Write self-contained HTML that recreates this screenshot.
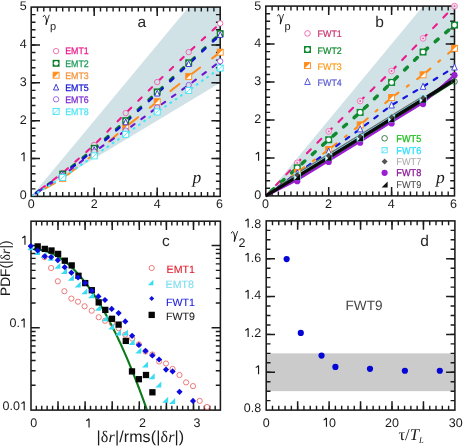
<!DOCTYPE html><html><head><meta charset="utf-8"><style>html,body{margin:0;padding:0;background:#fff}svg{display:block;will-change:transform;text-rendering:geometricPrecision}</style></head><body><svg width="463" height="447" viewBox="0 0 463 447"><rect width="463" height="447" fill="#fff"/><path d="M31.20 196.40L188.70 7.10L220.20 7.10L220.20 82.82z" fill="#d1e2e7"/><path d="M37.50 196.40v-4.3M37.50 7.10v4.3M43.80 196.40v-4.3M43.80 7.10v4.3M50.10 196.40v-4.3M50.10 7.10v4.3M56.40 196.40v-4.3M56.40 7.10v4.3M62.70 196.40v-4.3M62.70 7.10v4.3M69.00 196.40v-4.3M69.00 7.10v4.3M75.30 196.40v-4.3M75.30 7.10v4.3M81.60 196.40v-4.3M81.60 7.10v4.3M87.90 196.40v-4.3M87.90 7.10v4.3M94.20 196.40v-4.3M94.20 7.10v4.3M100.50 196.40v-4.3M100.50 7.10v4.3M106.80 196.40v-4.3M106.80 7.10v4.3M113.10 196.40v-4.3M113.10 7.10v4.3M119.40 196.40v-4.3M119.40 7.10v4.3M125.70 196.40v-4.3M125.70 7.10v4.3M132.00 196.40v-4.3M132.00 7.10v4.3M138.30 196.40v-4.3M138.30 7.10v4.3M144.60 196.40v-4.3M144.60 7.10v4.3M150.90 196.40v-4.3M150.90 7.10v4.3M157.20 196.40v-4.3M157.20 7.10v4.3M163.50 196.40v-4.3M163.50 7.10v4.3M169.80 196.40v-4.3M169.80 7.10v4.3M176.10 196.40v-4.3M176.10 7.10v4.3M182.40 196.40v-4.3M182.40 7.10v4.3M188.70 196.40v-4.3M188.70 7.10v4.3M195.00 196.40v-4.3M195.00 7.10v4.3M201.30 196.40v-4.3M201.30 7.10v4.3M207.60 196.40v-4.3M207.60 7.10v4.3M213.90 196.40v-4.3M213.90 7.10v4.3" stroke="#1a1a1a" stroke-width="1.4" fill="none"/><path d="M94.20 196.40v-8.8M94.20 7.10v8.8M157.20 196.40v-8.8M157.20 7.10v8.8" stroke="#1a1a1a" stroke-width="1.5" fill="none"/><path d="M31.20 188.83h4.3M220.20 188.83h-4.3M31.20 181.26h4.3M220.20 181.26h-4.3M31.20 173.68h4.3M220.20 173.68h-4.3M31.20 166.11h4.3M220.20 166.11h-4.3M31.20 158.54h4.3M220.20 158.54h-4.3M31.20 150.97h4.3M220.20 150.97h-4.3M31.20 143.40h4.3M220.20 143.40h-4.3M31.20 135.82h4.3M220.20 135.82h-4.3M31.20 128.25h4.3M220.20 128.25h-4.3M31.20 120.68h4.3M220.20 120.68h-4.3M31.20 113.11h4.3M220.20 113.11h-4.3M31.20 105.54h4.3M220.20 105.54h-4.3M31.20 97.96h4.3M220.20 97.96h-4.3M31.20 90.39h4.3M220.20 90.39h-4.3M31.20 82.82h4.3M220.20 82.82h-4.3M31.20 75.25h4.3M220.20 75.25h-4.3M31.20 67.68h4.3M220.20 67.68h-4.3M31.20 60.10h4.3M220.20 60.10h-4.3M31.20 52.53h4.3M220.20 52.53h-4.3M31.20 44.96h4.3M220.20 44.96h-4.3M31.20 37.39h4.3M220.20 37.39h-4.3M31.20 29.82h4.3M220.20 29.82h-4.3M31.20 22.24h4.3M220.20 22.24h-4.3M31.20 14.67h4.3M220.20 14.67h-4.3" stroke="#1a1a1a" stroke-width="1.4" fill="none"/><path d="M31.20 158.54h8.8M220.20 158.54h-8.8M31.20 120.68h8.8M220.20 120.68h-8.8M31.20 82.82h8.8M220.20 82.82h-8.8M31.20 44.96h8.8M220.20 44.96h-8.8" stroke="#1a1a1a" stroke-width="1.5" fill="none"/><rect x="31.20" y="7.10" width="189.00" height="189.30" fill="none" stroke="#1a1a1a" stroke-width="1.55"/><text x="26.70" y="199.00" font-size="12.5" text-anchor="end" fill="#1a1a1a" font-family="Liberation Sans, sans-serif" >0</text><path d="M24.06 161.28V152.53M21.25 154.53Q23.38 153.78 23.94 152.34" fill="none" stroke="#1a1a1a" stroke-width="1.15"/><text x="26.70" y="123.56" font-size="12.5" text-anchor="end" fill="#1a1a1a" font-family="Liberation Sans, sans-serif" >2</text><text x="26.70" y="85.84" font-size="12.5" text-anchor="end" fill="#1a1a1a" font-family="Liberation Sans, sans-serif" >3</text><text x="26.70" y="48.12" font-size="12.5" text-anchor="end" fill="#1a1a1a" font-family="Liberation Sans, sans-serif" >4</text><text x="26.70" y="10.40" font-size="12.5" text-anchor="end" fill="#1a1a1a" font-family="Liberation Sans, sans-serif" >5</text><text x="31.20" y="208.10" font-size="12.5" text-anchor="middle" fill="#1a1a1a" font-family="Liberation Sans, sans-serif" >0</text><text x="94.20" y="208.10" font-size="12.5" text-anchor="middle" fill="#1a1a1a" font-family="Liberation Sans, sans-serif" >2</text><text x="157.20" y="208.10" font-size="12.5" text-anchor="middle" fill="#1a1a1a" font-family="Liberation Sans, sans-serif" >4</text><text x="219.40" y="208.10" font-size="12.5" text-anchor="middle" fill="#1a1a1a" font-family="Liberation Sans, sans-serif" >6</text><path d="M220.20 23.38L188.70 52.15L157.20 82.06L125.70 113.11L94.20 144.91L62.70 172.93L33.09 194.99" fill="none" stroke="#ec1a8c" stroke-width="2.1" stroke-linecap="round" stroke-dasharray="4.70 9.90" stroke-dashoffset="-5.75"/><path d="M220.20 33.60L188.70 62.75L157.20 91.91L125.70 120.68L94.20 148.32L62.70 174.06L33.09 195.06" fill="none" stroke="#0a7a28" stroke-width="2.7" stroke-linecap="round" stroke-dasharray="4.10 10.50" stroke-dashoffset="-5.85"/><path d="M220.20 52.15L188.70 76.38L157.20 101.75L125.70 127.12L94.20 154.00L62.70 178.61L33.09 195.33" fill="none" stroke="#ff8c1a" stroke-width="2.0" stroke-linecap="round" stroke-dasharray="11.50 15.00" stroke-dashoffset="1.25"/><path d="M220.20 34.74L188.70 63.89L157.20 93.42L125.70 122.19L94.20 149.83L62.70 174.82L33.09 195.11" fill="none" stroke="#1212cc" stroke-width="2.5" stroke-linecap="round" stroke-dasharray="4.30 10.30" stroke-dashoffset="-5.55"/><path d="M220.20 61.24L188.70 85.09L157.20 107.43L125.70 130.52L94.20 151.73L62.70 175.58L33.09 195.15" fill="none" stroke="#6a14d2" stroke-width="2.1" stroke-linecap="round" stroke-dasharray="4.30 8.30" stroke-dashoffset="-5.35"/><path d="M220.20 68.05L188.70 90.39L157.20 111.97L125.70 134.31L94.20 155.89L62.70 177.47L33.09 195.26" fill="none" stroke="#3fe6f5" stroke-width="2.1" stroke-linecap="round" stroke-dasharray="0.90 5.50" stroke-dashoffset="-2.25"/><circle cx="62.70" cy="172.93" r="2.7" fill="#d1e2e7" stroke="#f0509f" stroke-width="0.8"/><circle cx="94.20" cy="144.91" r="2.7" fill="#d1e2e7" stroke="#f0509f" stroke-width="0.8"/><circle cx="125.70" cy="113.11" r="2.7" fill="#d1e2e7" stroke="#f0509f" stroke-width="0.8"/><circle cx="157.20" cy="82.06" r="2.7" fill="#d1e2e7" stroke="#f0509f" stroke-width="0.8"/><circle cx="188.70" cy="52.15" r="2.7" fill="#d1e2e7" stroke="#f0509f" stroke-width="0.8"/><circle cx="220.20" cy="23.38" r="2.7" fill="#fff" stroke="#f0509f" stroke-width="0.8"/><rect x="59.25" y="170.61" width="6.9" height="6.9" fill="#0a7a28"/><circle cx="62.70" cy="174.06" r="2.28" fill="#fff"/><rect x="90.75" y="144.87" width="6.9" height="6.9" fill="#0a7a28"/><circle cx="94.20" cy="148.32" r="2.28" fill="#fff"/><rect x="122.25" y="117.23" width="6.9" height="6.9" fill="#0a7a28"/><circle cx="125.70" cy="120.68" r="2.28" fill="#fff"/><rect x="153.75" y="88.46" width="6.9" height="6.9" fill="#0a7a28"/><circle cx="157.20" cy="91.91" r="2.28" fill="#fff"/><rect x="185.25" y="59.30" width="6.9" height="6.9" fill="#0a7a28"/><circle cx="188.70" cy="62.75" r="2.28" fill="#fff"/><rect x="216.75" y="30.15" width="6.9" height="6.9" fill="#0a7a28"/><circle cx="220.20" cy="33.60" r="2.28" fill="#fff"/><rect x="59.70" y="175.61" width="6.0" height="6.0" fill="#fff" stroke="#ff8c1a" stroke-width="0.9"/><path d="M59.70 175.61h6.0L59.70 181.61z" fill="#ff8c1a"/><rect x="91.20" y="151.00" width="6.0" height="6.0" fill="#fff" stroke="#ff8c1a" stroke-width="0.9"/><path d="M91.20 151.00h6.0L91.20 157.00z" fill="#ff8c1a"/><rect x="122.70" y="124.12" width="6.0" height="6.0" fill="#fff" stroke="#ff8c1a" stroke-width="0.9"/><path d="M122.70 124.12h6.0L122.70 130.12z" fill="#ff8c1a"/><rect x="154.20" y="98.75" width="6.0" height="6.0" fill="#fff" stroke="#ff8c1a" stroke-width="0.9"/><path d="M154.20 98.75h6.0L154.20 104.75z" fill="#ff8c1a"/><rect x="185.70" y="73.38" width="6.0" height="6.0" fill="#fff" stroke="#ff8c1a" stroke-width="0.9"/><path d="M185.70 73.38h6.0L185.70 79.38z" fill="#ff8c1a"/><rect x="217.20" y="49.15" width="6.0" height="6.0" fill="#fff" stroke="#ff8c1a" stroke-width="0.9"/><path d="M217.20 49.15h6.0L217.20 55.15z" fill="#ff8c1a"/><path d="M62.70 171.62L65.30 177.42H60.10z" fill="#fff" stroke="#2a2ad0" stroke-width="0.9"/><path d="M94.20 146.63L96.80 152.43H91.60z" fill="#fff" stroke="#2a2ad0" stroke-width="0.9"/><path d="M125.70 118.99L128.30 124.79H123.10z" fill="#fff" stroke="#2a2ad0" stroke-width="0.9"/><path d="M157.20 90.22L159.80 96.02H154.60z" fill="#fff" stroke="#2a2ad0" stroke-width="0.9"/><path d="M188.70 60.69L191.30 66.49H186.10z" fill="#fff" stroke="#2a2ad0" stroke-width="0.9"/><path d="M220.20 31.54L222.80 37.34H217.60z" fill="#fff" stroke="#2a2ad0" stroke-width="0.9"/><circle cx="62.70" cy="175.58" r="2.7" fill="#d1e2e7" stroke="#8a48dc" stroke-width="0.8"/><circle cx="94.20" cy="151.73" r="2.7" fill="#d1e2e7" stroke="#8a48dc" stroke-width="0.8"/><circle cx="125.70" cy="130.52" r="2.7" fill="#d1e2e7" stroke="#8a48dc" stroke-width="0.8"/><circle cx="157.20" cy="107.43" r="2.7" fill="#d1e2e7" stroke="#8a48dc" stroke-width="0.8"/><circle cx="188.70" cy="85.09" r="2.7" fill="#d1e2e7" stroke="#8a48dc" stroke-width="0.8"/><circle cx="220.20" cy="61.24" r="2.7" fill="#fff" stroke="#8a48dc" stroke-width="0.8"/><rect x="59.70" y="174.47" width="6.0" height="6.0" fill="#fff" stroke="#3fe6f5" stroke-width="0.9"/><path d="M59.70 180.47L65.70 174.47" stroke="#3fe6f5" stroke-width="0.8"/><rect x="91.20" y="152.89" width="6.0" height="6.0" fill="#fff" stroke="#3fe6f5" stroke-width="0.9"/><path d="M91.20 158.89L97.20 152.89" stroke="#3fe6f5" stroke-width="0.8"/><rect x="122.70" y="131.31" width="6.0" height="6.0" fill="#fff" stroke="#3fe6f5" stroke-width="0.9"/><path d="M122.70 137.31L128.70 131.31" stroke="#3fe6f5" stroke-width="0.8"/><rect x="154.20" y="108.97" width="6.0" height="6.0" fill="#fff" stroke="#3fe6f5" stroke-width="0.9"/><path d="M154.20 114.97L160.20 108.97" stroke="#3fe6f5" stroke-width="0.8"/><rect x="185.70" y="87.39" width="6.0" height="6.0" fill="#fff" stroke="#3fe6f5" stroke-width="0.9"/><path d="M185.70 93.39L191.70 87.39" stroke="#3fe6f5" stroke-width="0.8"/><rect x="217.20" y="65.05" width="6.0" height="6.0" fill="#fff" stroke="#3fe6f5" stroke-width="0.9"/><path d="M217.20 71.05L223.20 65.05" stroke="#3fe6f5" stroke-width="0.8"/><circle cx="56.10" cy="51.10" r="2.7" fill="#fff" stroke="#f0509f" stroke-width="0.8"/><text x="65.20" y="54.40" font-size="9.5" text-anchor="start" fill="#ec1a8c" font-family="Liberation Sans, sans-serif" stroke="#ec1a8c" stroke-width="0.25" textLength="23.6" lengthAdjust="spacingAndGlyphs">EMT1</text><rect x="52.65" y="59.85" width="6.9" height="6.9" fill="#0a7a28"/><circle cx="56.10" cy="63.30" r="2.28" fill="#fff"/><text x="65.20" y="66.60" font-size="9.5" text-anchor="start" fill="#1a9a58" font-family="Liberation Sans, sans-serif" stroke="#1a9a58" stroke-width="0.25" textLength="23.6" lengthAdjust="spacingAndGlyphs">EMT2</text><rect x="53.10" y="72.20" width="6.0" height="6.0" fill="#fff" stroke="#ff8c1a" stroke-width="0.9"/><path d="M53.10 72.20h6.0L53.10 78.20z" fill="#ff8c1a"/><text x="65.20" y="78.50" font-size="9.5" text-anchor="start" fill="#f5923a" font-family="Liberation Sans, sans-serif" stroke="#f5923a" stroke-width="0.25" textLength="23.6" lengthAdjust="spacingAndGlyphs">EMT3</text><path d="M56.10 84.20L58.70 90.00H53.50z" fill="#fff" stroke="#2a2ad0" stroke-width="0.9"/><text x="65.20" y="90.70" font-size="9.5" text-anchor="start" fill="#1414d2" font-family="Liberation Sans, sans-serif" stroke="#1414d2" stroke-width="0.25" textLength="23.6" lengthAdjust="spacingAndGlyphs">EMT5</text><circle cx="56.10" cy="99.30" r="2.7" fill="#fff" stroke="#8a48dc" stroke-width="0.8"/><text x="65.20" y="102.60" font-size="9.5" text-anchor="start" fill="#7a2ad2" font-family="Liberation Sans, sans-serif" stroke="#7a2ad2" stroke-width="0.25" textLength="23.6" lengthAdjust="spacingAndGlyphs">EMT6</text><rect x="53.10" y="108.50" width="6.0" height="6.0" fill="#fff" stroke="#3fe6f5" stroke-width="0.9"/><path d="M53.10 114.50L59.10 108.50" stroke="#3fe6f5" stroke-width="0.8"/><text x="65.20" y="114.80" font-size="9.5" text-anchor="start" fill="#4fe4f5" font-family="Liberation Sans, sans-serif" stroke="#4fe4f5" stroke-width="0.25" textLength="23.6" lengthAdjust="spacingAndGlyphs">EMT8</text><text x="137.50" y="27.10" font-size="15.5" text-anchor="start" fill="#2a2626" font-family="Liberation Sans, sans-serif" >a</text><g transform="translate(42.90,14.80) scale(1.0)" fill="none" stroke="#1a1a1a" stroke-linecap="round"><path d="M0.3 1.9C0.7 0.3 2.0 0.1 2.6 1.7L3.9 6.6" stroke-width="0.95"/><path d="M6.3 0.4L3.7 7.6" stroke-width="0.85"/><path d="M3.85 6.2L3.2 9.6" stroke-width="1.35"/></g><text x="50.00" y="30.30" font-size="11" text-anchor="start" fill="#1a1a1a" font-family="Liberation Sans, sans-serif" >p</text><text x="192.50" y="183.20" font-size="17.5" text-anchor="start" fill="#1a1a1a" font-family="Liberation Serif, serif" font-style="italic">p</text><path d="M265.80 195.90L423.05 6.10L454.50 6.10L454.50 80.12z" fill="#d1e2e7"/><path d="M272.09 195.90v-4.3M272.09 6.10v4.3M278.38 195.90v-4.3M278.38 6.10v4.3M284.67 195.90v-4.3M284.67 6.10v4.3M290.96 195.90v-4.3M290.96 6.10v4.3M297.25 195.90v-4.3M297.25 6.10v4.3M303.54 195.90v-4.3M303.54 6.10v4.3M309.83 195.90v-4.3M309.83 6.10v4.3M316.12 195.90v-4.3M316.12 6.10v4.3M322.41 195.90v-4.3M322.41 6.10v4.3M328.70 195.90v-4.3M328.70 6.10v4.3M334.99 195.90v-4.3M334.99 6.10v4.3M341.28 195.90v-4.3M341.28 6.10v4.3M347.57 195.90v-4.3M347.57 6.10v4.3M353.86 195.90v-4.3M353.86 6.10v4.3M360.15 195.90v-4.3M360.15 6.10v4.3M366.44 195.90v-4.3M366.44 6.10v4.3M372.73 195.90v-4.3M372.73 6.10v4.3M379.02 195.90v-4.3M379.02 6.10v4.3M385.31 195.90v-4.3M385.31 6.10v4.3M391.60 195.90v-4.3M391.60 6.10v4.3M397.89 195.90v-4.3M397.89 6.10v4.3M404.18 195.90v-4.3M404.18 6.10v4.3M410.47 195.90v-4.3M410.47 6.10v4.3M416.76 195.90v-4.3M416.76 6.10v4.3M423.05 195.90v-4.3M423.05 6.10v4.3M429.34 195.90v-4.3M429.34 6.10v4.3M435.63 195.90v-4.3M435.63 6.10v4.3M441.92 195.90v-4.3M441.92 6.10v4.3M448.21 195.90v-4.3M448.21 6.10v4.3" stroke="#1a1a1a" stroke-width="1.4" fill="none"/><path d="M328.70 195.90v-8.8M328.70 6.10v8.8M391.60 195.90v-8.8M391.60 6.10v8.8" stroke="#1a1a1a" stroke-width="1.5" fill="none"/><path d="M265.80 188.31h4.3M454.50 188.31h-4.3M265.80 180.72h4.3M454.50 180.72h-4.3M265.80 173.12h4.3M454.50 173.12h-4.3M265.80 165.53h4.3M454.50 165.53h-4.3M265.80 157.94h4.3M454.50 157.94h-4.3M265.80 150.35h4.3M454.50 150.35h-4.3M265.80 142.76h4.3M454.50 142.76h-4.3M265.80 135.16h4.3M454.50 135.16h-4.3M265.80 127.57h4.3M454.50 127.57h-4.3M265.80 119.98h4.3M454.50 119.98h-4.3M265.80 112.39h4.3M454.50 112.39h-4.3M265.80 104.80h4.3M454.50 104.80h-4.3M265.80 97.20h4.3M454.50 97.20h-4.3M265.80 89.61h4.3M454.50 89.61h-4.3M265.80 82.02h4.3M454.50 82.02h-4.3M265.80 74.43h4.3M454.50 74.43h-4.3M265.80 66.84h4.3M454.50 66.84h-4.3M265.80 59.24h4.3M454.50 59.24h-4.3M265.80 51.65h4.3M454.50 51.65h-4.3M265.80 44.06h4.3M454.50 44.06h-4.3M265.80 36.47h4.3M454.50 36.47h-4.3M265.80 28.88h4.3M454.50 28.88h-4.3M265.80 21.28h4.3M454.50 21.28h-4.3M265.80 13.69h4.3M454.50 13.69h-4.3" stroke="#1a1a1a" stroke-width="1.4" fill="none"/><path d="M265.80 157.94h8.8M454.50 157.94h-8.8M265.80 119.98h8.8M454.50 119.98h-8.8M265.80 82.02h8.8M454.50 82.02h-8.8M265.80 44.06h8.8M454.50 44.06h-8.8" stroke="#1a1a1a" stroke-width="1.5" fill="none"/><rect x="265.80" y="6.10" width="188.70" height="189.80" fill="none" stroke="#1a1a1a" stroke-width="1.55"/><text x="261.20" y="198.70" font-size="12.5" text-anchor="end" fill="#1a1a1a" font-family="Liberation Sans, sans-serif" >0</text><path d="M258.56 160.84V152.09M255.75 154.09Q257.88 153.34 258.44 151.90" fill="none" stroke="#1a1a1a" stroke-width="1.15"/><text x="261.20" y="122.98" font-size="12.5" text-anchor="end" fill="#1a1a1a" font-family="Liberation Sans, sans-serif" >2</text><text x="261.20" y="85.12" font-size="12.5" text-anchor="end" fill="#1a1a1a" font-family="Liberation Sans, sans-serif" >3</text><text x="261.20" y="47.26" font-size="12.5" text-anchor="end" fill="#1a1a1a" font-family="Liberation Sans, sans-serif" >4</text><text x="261.20" y="10.00" font-size="12.5" text-anchor="end" fill="#1a1a1a" font-family="Liberation Sans, sans-serif" >5</text><text x="265.50" y="207.60" font-size="12.5" text-anchor="middle" fill="#1a1a1a" font-family="Liberation Sans, sans-serif" >0</text><text x="328.40" y="207.60" font-size="12.5" text-anchor="middle" fill="#1a1a1a" font-family="Liberation Sans, sans-serif" >2</text><text x="391.30" y="207.60" font-size="12.5" text-anchor="middle" fill="#1a1a1a" font-family="Liberation Sans, sans-serif" >4</text><text x="453.50" y="207.60" font-size="12.5" text-anchor="middle" fill="#1a1a1a" font-family="Liberation Sans, sans-serif" >6</text><path d="M454.50 6.10L423.05 38.37L391.60 71.01L360.15 101.00L328.70 131.37L297.25 162.87L267.37 194.25" fill="none" stroke="#ec1a8c" stroke-width="2.1" stroke-linecap="round" stroke-dasharray="5.50 9.30" stroke-dashoffset="-10.45"/><path d="M454.50 25.08L423.05 52.03L391.60 82.40L360.15 112.39L328.70 139.72L297.25 167.81L267.37 194.50" fill="none" stroke="#0f8a2f" stroke-width="3.5" stroke-linecap="round" stroke-dasharray="3.90 10.00" stroke-dashoffset="-7.65"/><path d="M454.50 48.24L423.05 74.81L391.60 97.58L360.15 124.91L328.70 149.59L297.25 172.36L267.37 194.72" fill="none" stroke="#ff8c1a" stroke-width="2.1" stroke-linecap="round" stroke-dasharray="16.9 10.35 2.4 10.35" stroke-dashoffset="8.45"/><path d="M454.50 67.22L423.05 86.58L391.60 105.18L360.15 129.09L328.70 151.49L297.25 173.12L267.37 194.76" fill="none" stroke="#1414dd" stroke-width="2.2" stroke-linecap="round" stroke-dasharray="4.20 7.60" stroke-dashoffset="-8.40"/><path d="M265.80 195.90L297.25 178.92L328.70 159.63L360.15 140.35L391.60 121.07L423.05 101.78L454.50 81.64" fill="none" stroke="#0a6a1a" stroke-width="1.2" stroke-linejoin="round"/><path d="M265.80 195.90L297.25 180.02L328.70 160.73L360.15 141.45L391.60 122.17L423.05 102.88L454.50 75.19" fill="none" stroke="#9a1fd0" stroke-width="2.2" stroke-linejoin="round"/><path d="M265.80 195.90L297.25 173.52L328.70 154.23L360.15 134.95L391.60 115.67L423.05 96.38" fill="none" stroke="#6e7274" stroke-width="1.6" stroke-linejoin="round"/><path d="M265.80 195.90L297.25 174.52L328.70 155.23L360.15 135.95L391.60 116.67L423.05 97.38" fill="none" stroke="#7fe8f2" stroke-width="1.0" stroke-linejoin="round"/><path d="M265.80 195.90L297.25 176.62L328.70 157.33L360.15 138.05L391.60 118.77L423.05 99.48L454.50 79.74" fill="none" stroke="#0a0a0a" stroke-width="3.3" stroke-linejoin="round"/><circle cx="297.25" cy="162.87" r="2.9" fill="#e9dfea" stroke="#f26ab4" stroke-width="0.8"/><circle cx="297.25" cy="162.87" r="0.9" fill="#f050a8"/><circle cx="328.70" cy="131.37" r="2.9" fill="#e9dfea" stroke="#f26ab4" stroke-width="0.8"/><circle cx="328.70" cy="131.37" r="0.9" fill="#f050a8"/><circle cx="360.15" cy="101.00" r="2.9" fill="#e9dfea" stroke="#f26ab4" stroke-width="0.8"/><circle cx="360.15" cy="101.00" r="0.9" fill="#f050a8"/><circle cx="391.60" cy="71.01" r="2.9" fill="#e9dfea" stroke="#f26ab4" stroke-width="0.8"/><circle cx="391.60" cy="71.01" r="0.9" fill="#f050a8"/><circle cx="423.05" cy="38.37" r="2.9" fill="#e9dfea" stroke="#f26ab4" stroke-width="0.8"/><circle cx="423.05" cy="38.37" r="0.9" fill="#f050a8"/><circle cx="454.50" cy="6.10" r="2.9" fill="#e9dfea" stroke="#f26ab4" stroke-width="0.8"/><circle cx="454.50" cy="6.10" r="0.9" fill="#f050a8"/><rect x="293.75" y="164.31" width="7.0" height="7.0" fill="#0f8a2f"/><circle cx="297.25" cy="167.81" r="2.31" fill="#fff"/><rect x="325.20" y="136.22" width="7.0" height="7.0" fill="#0f8a2f"/><circle cx="328.70" cy="139.72" r="2.31" fill="#fff"/><rect x="356.65" y="108.89" width="7.0" height="7.0" fill="#0f8a2f"/><circle cx="360.15" cy="112.39" r="2.31" fill="#fff"/><rect x="388.10" y="78.90" width="7.0" height="7.0" fill="#0f8a2f"/><circle cx="391.60" cy="82.40" r="2.31" fill="#fff"/><rect x="419.55" y="48.53" width="7.0" height="7.0" fill="#0f8a2f"/><circle cx="423.05" cy="52.03" r="2.31" fill="#fff"/><rect x="451.00" y="21.58" width="7.0" height="7.0" fill="#0f8a2f"/><circle cx="454.50" cy="25.08" r="2.31" fill="#fff"/><rect x="294.25" y="169.36" width="6.0" height="6.0" fill="#fff" stroke="#ff8c1a" stroke-width="0.9"/><path d="M294.25 169.36h6.0L294.25 175.36z" fill="#ff8c1a"/><rect x="325.70" y="146.59" width="6.0" height="6.0" fill="#fff" stroke="#ff8c1a" stroke-width="0.9"/><path d="M325.70 146.59h6.0L325.70 152.59z" fill="#ff8c1a"/><rect x="357.15" y="121.91" width="6.0" height="6.0" fill="#fff" stroke="#ff8c1a" stroke-width="0.9"/><path d="M357.15 121.91h6.0L357.15 127.91z" fill="#ff8c1a"/><rect x="388.60" y="94.58" width="6.0" height="6.0" fill="#fff" stroke="#ff8c1a" stroke-width="0.9"/><path d="M388.60 94.58h6.0L388.60 100.58z" fill="#ff8c1a"/><rect x="420.05" y="71.81" width="6.0" height="6.0" fill="#fff" stroke="#ff8c1a" stroke-width="0.9"/><path d="M420.05 71.81h6.0L420.05 77.81z" fill="#ff8c1a"/><rect x="451.50" y="45.24" width="6.0" height="6.0" fill="#fff" stroke="#ff8c1a" stroke-width="0.9"/><path d="M451.50 45.24h6.0L451.50 51.24z" fill="#ff8c1a"/><path d="M297.25 169.72L300.05 175.92H294.45z" fill="#fff" stroke="#3a3ad8" stroke-width="0.9"/><path d="M328.70 148.09L331.50 154.29H325.90z" fill="#fff" stroke="#3a3ad8" stroke-width="0.9"/><path d="M360.15 125.69L362.95 131.89H357.35z" fill="#fff" stroke="#3a3ad8" stroke-width="0.9"/><path d="M391.60 101.78L394.40 107.98H388.80z" fill="#fff" stroke="#3a3ad8" stroke-width="0.9"/><path d="M423.05 83.18L425.85 89.38H420.25z" fill="#fff" stroke="#3a3ad8" stroke-width="0.9"/><path d="M454.50 63.82L457.30 70.02H451.70z" fill="#fff" stroke="#3a3ad8" stroke-width="0.9"/><circle cx="297.25" cy="181.23" r="3.1" fill="#9a1fd0"/><circle cx="328.70" cy="161.95" r="3.1" fill="#9a1fd0"/><circle cx="360.15" cy="142.66" r="3.1" fill="#9a1fd0"/><circle cx="391.60" cy="123.38" r="3.1" fill="#9a1fd0"/><circle cx="423.05" cy="104.10" r="3.1" fill="#9a1fd0"/><circle cx="454.50" cy="75.19" r="3.1" fill="#9a1fd0"/><rect x="294.15" y="173.02" width="6.2" height="6.6" fill="#eafcff" stroke="#7fe8f2" stroke-width="0.9"/><rect x="325.60" y="153.73" width="6.2" height="6.6" fill="#eafcff" stroke="#7fe8f2" stroke-width="0.9"/><rect x="357.05" y="134.45" width="6.2" height="6.6" fill="#eafcff" stroke="#7fe8f2" stroke-width="0.9"/><rect x="388.50" y="115.17" width="6.2" height="6.6" fill="#eafcff" stroke="#7fe8f2" stroke-width="0.9"/><rect x="419.95" y="95.88" width="6.2" height="6.6" fill="#eafcff" stroke="#7fe8f2" stroke-width="0.9"/><path d="M297.25 172.01L300.25 175.01L297.25 178.01L294.25 175.01z" fill="#4a4a4a"/><path d="M328.70 152.73L331.70 155.73L328.70 158.73L325.70 155.73z" fill="#4a4a4a"/><path d="M360.15 133.44L363.15 136.44L360.15 139.44L357.15 136.44z" fill="#4a4a4a"/><path d="M391.60 114.16L394.60 117.16L391.60 120.16L388.60 117.16z" fill="#4a4a4a"/><path d="M423.05 94.88L426.05 97.88L423.05 100.88L420.05 97.88z" fill="#4a4a4a"/><path d="M300.15 174.12V179.92H294.35z" fill="#0a0a0a"/><path d="M331.60 154.83V160.63H325.80z" fill="#0a0a0a"/><path d="M363.05 135.55V141.35H357.25z" fill="#0a0a0a"/><path d="M394.50 116.27V122.07H388.70z" fill="#0a0a0a"/><path d="M425.95 96.98V102.78H420.15z" fill="#0a0a0a"/><circle cx="454.50" cy="81.64" r="2.8" fill="none" stroke="#2a6a3a" stroke-width="0.9"/><circle cx="307.50" cy="33.40" r="2.8" fill="#fff" stroke="#f060b0" stroke-width="0.9"/><text x="317.60" y="37.40" font-size="9.5" text-anchor="start" fill="#c8326e" font-family="Liberation Sans, sans-serif" stroke="#c8326e" stroke-width="0.2" textLength="24.2" lengthAdjust="spacingAndGlyphs">FWT1</text><rect x="304.00" y="46.00" width="7.0" height="7.0" fill="#0f8a2f"/><circle cx="307.50" cy="49.50" r="2.31" fill="#fff"/><text x="317.60" y="53.50" font-size="9.5" text-anchor="start" fill="#0f8a2f" font-family="Liberation Sans, sans-serif" stroke="#0f8a2f" stroke-width="0.2" textLength="24.2" lengthAdjust="spacingAndGlyphs">FWT2</text><rect x="304.50" y="62.60" width="6.0" height="6.0" fill="#fff" stroke="#ff8c1a" stroke-width="0.9"/><path d="M304.50 62.60h6.0L304.50 68.60z" fill="#ff8c1a"/><text x="317.60" y="69.60" font-size="9.5" text-anchor="start" fill="#ff9a1a" font-family="Liberation Sans, sans-serif" stroke="#ff9a1a" stroke-width="0.2" textLength="24.2" lengthAdjust="spacingAndGlyphs">FWT3</text><path d="M307.50 78.30L310.30 84.50H304.70z" fill="#fff" stroke="#4a4ad8" stroke-width="0.9"/><text x="317.60" y="85.70" font-size="9.5" text-anchor="start" fill="#5a5ad2" font-family="Liberation Sans, sans-serif" stroke="#5a5ad2" stroke-width="0.2" textLength="24.2" lengthAdjust="spacingAndGlyphs">FWT4</text><circle cx="384.60" cy="138.30" r="2.8" fill="#fff" stroke="#2a6a3a" stroke-width="0.9"/><rect x="382.00" y="147.60" width="5.2" height="5.2" fill="#fff" stroke="#4fe4f5" stroke-width="0.9"/><path d="M382.00 152.80L387.20 147.60" stroke="#4fe4f5" stroke-width="0.8"/><path d="M384.60 158.40L387.60 161.40L384.60 164.40L381.60 161.40z" fill="#555"/><circle cx="384.6" cy="172.8" r="3.1" fill="#9a1fd0"/><path d="M387.60 181.60V187.60H381.60z" fill="#111"/><text x="396.30" y="141.80" font-size="9.9" text-anchor="start" fill="#22c022" font-family="Liberation Sans, sans-serif" stroke="#22c022" stroke-width="0.3" textLength="25.0" lengthAdjust="spacingAndGlyphs">FWT5</text><text x="396.30" y="153.50" font-size="9.9" text-anchor="start" fill="#30e0ff" font-family="Liberation Sans, sans-serif" stroke="#30e0ff" stroke-width="0.3" textLength="25.0" lengthAdjust="spacingAndGlyphs">FWT6</text><text x="396.30" y="164.90" font-size="9.9" text-anchor="start" fill="#a8a8a8" font-family="Liberation Sans, sans-serif" stroke="#a8a8a8" stroke-width="0.05" textLength="25.0" lengthAdjust="spacingAndGlyphs">FWT7</text><text x="396.30" y="176.30" font-size="9.9" text-anchor="start" fill="#8a1a9a" font-family="Liberation Sans, sans-serif" stroke="#8a1a9a" stroke-width="0.3" textLength="25.0" lengthAdjust="spacingAndGlyphs">FWT8</text><text x="396.30" y="188.10" font-size="9.9" text-anchor="start" fill="#444" font-family="Liberation Sans, sans-serif" stroke="#444" stroke-width="0.05" textLength="25.0" lengthAdjust="spacingAndGlyphs">FWT9</text><text x="375.20" y="26.80" font-size="15.5" text-anchor="start" fill="#2a2626" font-family="Liberation Sans, sans-serif" >b</text><g transform="translate(277.20,14.00) scale(1.0)" fill="none" stroke="#1a1a1a" stroke-linecap="round"><path d="M0.3 1.9C0.7 0.3 2.0 0.1 2.6 1.7L3.9 6.6" stroke-width="0.95"/><path d="M6.3 0.4L3.7 7.6" stroke-width="0.85"/><path d="M3.85 6.2L3.2 9.6" stroke-width="1.35"/></g><text x="284.60" y="29.60" font-size="11" text-anchor="start" fill="#1a1a1a" font-family="Liberation Sans, sans-serif" >p</text><text x="436.00" y="182.50" font-size="17.5" text-anchor="start" fill="#1a1a1a" font-family="Liberation Serif, serif" font-style="italic">p</text><path d="M33.80 249.36L34.89 249.38L35.98 249.42L37.06 249.49L38.15 249.60L39.24 249.73L40.33 249.90L41.42 250.09L42.50 250.31L43.59 250.56L44.68 250.85L45.77 251.16L46.86 251.50L47.94 251.87L49.03 252.27L50.12 252.70L51.21 253.16L52.30 253.65L53.38 254.17L54.47 254.72L55.56 255.30L56.65 255.91L57.74 256.55L58.82 257.22L59.91 257.92L61.00 258.64L62.09 259.40L63.18 260.19L64.26 261.01L65.35 261.85L66.44 262.73L67.53 263.63L68.62 264.57L69.70 265.54L70.79 266.53L71.88 267.56L72.97 268.61L74.06 269.69L75.14 270.81L76.23 271.95L77.32 273.13L78.41 274.33L79.50 275.56L80.58 276.82L81.67 278.12L82.76 279.44L83.85 280.79L84.94 282.17L86.02 283.58L87.11 285.02L88.20 286.49L89.29 287.99L90.38 289.52L91.46 291.08L92.55 292.67L93.64 294.29L94.73 295.94L95.82 297.62L96.90 299.33L97.99 301.06L99.08 302.83L100.17 304.63L101.26 306.46L102.34 308.31L103.43 310.20L104.52 312.11L105.61 314.06L106.70 316.04L107.78 318.04L108.87 320.08L109.96 322.14L111.05 324.23L112.14 326.36L113.22 328.51L114.31 330.70L115.40 332.91L116.49 335.15L117.58 337.42L118.66 339.73L119.75 342.06L120.84 344.42L121.93 346.81L123.02 349.23L124.10 351.68L125.19 354.16L126.28 356.67L127.37 359.21L128.46 361.78L129.54 364.38L130.63 367.01L131.72 369.67L132.81 372.36L133.90 375.08L134.98 377.82L136.07 380.60L137.16 383.41L138.25 386.25L139.34 389.11L140.42 392.01L141.51 394.93L142.60 397.89L143.69 400.88L144.78 403.89L145.86 406.94L146.95 410.01" fill="none" stroke="#0a7a1a" stroke-width="2.1"/><path d="M36.32 410.10v-4.3M36.32 221.20v4.3M41.74 410.10v-4.3M41.74 221.20v4.3M47.16 410.10v-4.3M47.16 221.20v4.3M52.58 410.10v-4.3M52.58 221.20v4.3M58.00 410.10v-4.3M58.00 221.20v4.3M63.42 410.10v-4.3M63.42 221.20v4.3M68.84 410.10v-4.3M68.84 221.20v4.3M74.26 410.10v-4.3M74.26 221.20v4.3M79.68 410.10v-4.3M79.68 221.20v4.3M85.10 410.10v-4.3M85.10 221.20v4.3M90.52 410.10v-4.3M90.52 221.20v4.3M95.94 410.10v-4.3M95.94 221.20v4.3M101.36 410.10v-4.3M101.36 221.20v4.3M106.78 410.10v-4.3M106.78 221.20v4.3M112.20 410.10v-4.3M112.20 221.20v4.3M117.62 410.10v-4.3M117.62 221.20v4.3M123.04 410.10v-4.3M123.04 221.20v4.3M128.46 410.10v-4.3M128.46 221.20v4.3M133.88 410.10v-4.3M133.88 221.20v4.3M139.30 410.10v-4.3M139.30 221.20v4.3M144.72 410.10v-4.3M144.72 221.20v4.3M150.14 410.10v-4.3M150.14 221.20v4.3M155.56 410.10v-4.3M155.56 221.20v4.3M160.98 410.10v-4.3M160.98 221.20v4.3M166.40 410.10v-4.3M166.40 221.20v4.3M171.82 410.10v-4.3M171.82 221.20v4.3M177.24 410.10v-4.3M177.24 221.20v4.3M182.66 410.10v-4.3M182.66 221.20v4.3M188.08 410.10v-4.3M188.08 221.20v4.3M193.50 410.10v-4.3M193.50 221.20v4.3M198.92 410.10v-4.3M198.92 221.20v4.3M204.34 410.10v-4.3M204.34 221.20v4.3M209.76 410.10v-4.3M209.76 221.20v4.3M215.18 410.10v-4.3M215.18 221.20v4.3" stroke="#1a1a1a" stroke-width="1.4" fill="none"/><path d="M58.00 410.10v-8.8M58.00 221.20v8.8M85.10 410.10v-8.8M85.10 221.20v8.8M112.20 410.10v-8.8M112.20 221.20v8.8M139.30 410.10v-8.8M139.30 221.20v8.8M166.40 410.10v-8.8M166.40 221.20v8.8M193.50 410.10v-8.8M193.50 221.20v8.8" stroke="#1a1a1a" stroke-width="1.5" fill="none"/><path d="M31.00 303.06h4.6M220.40 303.06h-4.6M31.00 288.58h4.6M220.40 288.58h-4.6M31.00 278.31h4.6M220.40 278.31h-4.6M31.00 270.34h4.6M220.40 270.34h-4.6M31.00 263.84h4.6M220.40 263.84h-4.6M31.00 258.33h4.6M220.40 258.33h-4.6M31.00 253.57h4.6M220.40 253.57h-4.6M31.00 249.36h4.6M220.40 249.36h-4.6M31.00 385.26h4.6M220.40 385.26h-4.6M31.00 370.78h4.6M220.40 370.78h-4.6M31.00 360.51h4.6M220.40 360.51h-4.6M31.00 352.54h4.6M220.40 352.54h-4.6M31.00 346.04h4.6M220.40 346.04h-4.6M31.00 340.53h4.6M220.40 340.53h-4.6M31.00 335.77h4.6M220.40 335.77h-4.6M31.00 331.56h4.6M220.40 331.56h-4.6" stroke="#1a1a1a" stroke-width="1.4" fill="none"/><path d="M31.00 245.60h8.8M220.40 245.60h-8.8M31.00 327.80h8.8M220.40 327.80h-8.8" stroke="#1a1a1a" stroke-width="1.5" fill="none"/><rect x="31.00" y="221.20" width="189.40" height="188.90" fill="none" stroke="#1a1a1a" stroke-width="1.55"/><path d="M24.96 244.70V235.95M22.15 237.95Q24.27 237.20 24.84 235.76" fill="none" stroke="#1a1a1a" stroke-width="1.15"/><text x="9.42" y="327.40" font-size="12.5" fill="#1a1a1a" font-family="Liberation Sans, sans-serif">0</text><text x="16.38" y="327.40" font-size="12.5" fill="#1a1a1a" font-family="Liberation Sans, sans-serif">.</text><path d="M24.16 327.40V318.65M21.35 320.65Q23.48 319.90 24.04 318.46" fill="none" stroke="#1a1a1a" stroke-width="1.15"/><text x="2.47" y="410.30" font-size="12.5" fill="#1a1a1a" font-family="Liberation Sans, sans-serif">0</text><text x="9.42" y="410.30" font-size="12.5" fill="#1a1a1a" font-family="Liberation Sans, sans-serif">.</text><text x="12.90" y="410.30" font-size="12.5" fill="#1a1a1a" font-family="Liberation Sans, sans-serif">0</text><path d="M24.16 410.30V401.55M21.35 403.55Q23.48 402.80 24.04 401.36" fill="none" stroke="#1a1a1a" stroke-width="1.15"/><text x="33.80" y="427.40" font-size="12.5" text-anchor="middle" fill="#1a1a1a" font-family="Liberation Sans, sans-serif" >0</text><path d="M89.04 427.40V418.65M86.22 420.65Q88.35 419.90 88.91 418.46" fill="none" stroke="#1a1a1a" stroke-width="1.15"/><text x="142.60" y="427.40" font-size="12.5" text-anchor="middle" fill="#1a1a1a" font-family="Liberation Sans, sans-serif" >2</text><text x="197.00" y="427.40" font-size="12.5" text-anchor="middle" fill="#1a1a1a" font-family="Liberation Sans, sans-serif" >3</text><clipPath id="cc"><rect x="28.00" y="221.20" width="195.40" height="191.90"/></clipPath><g clip-path="url(#cc)"><circle cx="44.50" cy="257.10" r="2.6" fill="none" stroke="#e85a5a" stroke-width="0.8"/><circle cx="51.10" cy="268.00" r="2.6" fill="none" stroke="#e85a5a" stroke-width="0.8"/><circle cx="57.80" cy="281.30" r="2.6" fill="none" stroke="#e85a5a" stroke-width="0.8"/><circle cx="64.40" cy="291.20" r="2.6" fill="none" stroke="#e85a5a" stroke-width="0.8"/><circle cx="71.40" cy="298.60" r="2.6" fill="none" stroke="#e85a5a" stroke-width="0.8"/><circle cx="78.00" cy="301.70" r="2.6" fill="none" stroke="#e85a5a" stroke-width="0.8"/><circle cx="84.60" cy="306.30" r="2.6" fill="none" stroke="#e85a5a" stroke-width="0.8"/><circle cx="91.70" cy="310.70" r="2.6" fill="none" stroke="#e85a5a" stroke-width="0.8"/><circle cx="98.70" cy="317.20" r="2.6" fill="none" stroke="#e85a5a" stroke-width="0.8"/><circle cx="105.00" cy="320.80" r="2.6" fill="none" stroke="#e85a5a" stroke-width="0.8"/><circle cx="112.00" cy="323.50" r="2.6" fill="none" stroke="#e85a5a" stroke-width="0.8"/><circle cx="118.60" cy="328.20" r="2.6" fill="none" stroke="#e85a5a" stroke-width="0.8"/><circle cx="125.30" cy="334.60" r="2.6" fill="none" stroke="#e85a5a" stroke-width="0.8"/><circle cx="132.10" cy="338.60" r="2.6" fill="none" stroke="#e85a5a" stroke-width="0.8"/><circle cx="138.90" cy="344.30" r="2.6" fill="none" stroke="#e85a5a" stroke-width="0.8"/><circle cx="145.50" cy="351.50" r="2.6" fill="none" stroke="#e85a5a" stroke-width="0.8"/><circle cx="152.40" cy="354.50" r="2.6" fill="none" stroke="#e85a5a" stroke-width="0.8"/><circle cx="159.10" cy="361.50" r="2.6" fill="none" stroke="#e85a5a" stroke-width="0.8"/><circle cx="166.00" cy="363.50" r="2.6" fill="none" stroke="#e85a5a" stroke-width="0.8"/><circle cx="172.60" cy="368.90" r="2.6" fill="none" stroke="#e85a5a" stroke-width="0.8"/><circle cx="179.50" cy="375.00" r="2.6" fill="none" stroke="#e85a5a" stroke-width="0.8"/><circle cx="186.10" cy="382.40" r="2.6" fill="none" stroke="#e85a5a" stroke-width="0.8"/><circle cx="193.00" cy="386.10" r="2.6" fill="none" stroke="#e85a5a" stroke-width="0.8"/><circle cx="199.70" cy="400.90" r="2.6" fill="none" stroke="#e85a5a" stroke-width="0.8"/><circle cx="207.00" cy="407.00" r="2.6" fill="none" stroke="#e85a5a" stroke-width="0.8"/><path d="M33.00 244.20V250.20H27.00z" fill="#3adcf2"/><path d="M40.00 249.00V255.00H34.00z" fill="#3adcf2"/><path d="M46.60 252.00V258.00H40.60z" fill="#3adcf2"/><path d="M53.30 254.80V260.80H47.30z" fill="#3adcf2"/><path d="M60.30 262.70V268.70H54.30z" fill="#3adcf2"/><path d="M67.00 268.10V274.10H61.00z" fill="#3adcf2"/><path d="M73.90 274.70V280.70H67.90z" fill="#3adcf2"/><path d="M80.70 281.50V287.50H74.70z" fill="#3adcf2"/><path d="M87.30 288.20V294.20H81.30z" fill="#3adcf2"/><path d="M94.00 292.20V298.20H88.00z" fill="#3adcf2"/><path d="M100.90 304.80V310.80H94.90z" fill="#3adcf2"/><path d="M107.70 315.30V321.30H101.70z" fill="#3adcf2"/><path d="M114.20 323.60V329.60H108.20z" fill="#3adcf2"/><path d="M121.00 329.40V335.40H115.00z" fill="#3adcf2"/><path d="M128.00 329.40V335.40H122.00z" fill="#3adcf2"/><path d="M134.60 339.00V345.00H128.60z" fill="#3adcf2"/><path d="M141.30 347.60V353.60H135.30z" fill="#3adcf2"/><path d="M148.00 361.50V367.50H142.00z" fill="#3adcf2"/><path d="M154.70 373.30V379.30H148.70z" fill="#3adcf2"/><path d="M161.30 381.40V387.40H155.30z" fill="#3adcf2"/><path d="M168.20 396.70V402.70H162.20z" fill="#3adcf2"/><path d="M175.10 397.90V403.90H169.10z" fill="#3adcf2"/><rect x="34.55" y="243.25" width="6.3" height="6.3" fill="#050505"/><rect x="41.65" y="245.75" width="6.3" height="6.3" fill="#050505"/><rect x="48.35" y="247.35" width="6.3" height="6.3" fill="#050505"/><rect x="54.95" y="250.75" width="6.3" height="6.3" fill="#050505"/><rect x="61.65" y="257.55" width="6.3" height="6.3" fill="#050505"/><rect x="68.55" y="262.25" width="6.3" height="6.3" fill="#050505"/><rect x="75.35" y="272.65" width="6.3" height="6.3" fill="#050505"/><rect x="82.05" y="279.95" width="6.3" height="6.3" fill="#050505"/><rect x="88.65" y="287.05" width="6.3" height="6.3" fill="#050505"/><rect x="95.55" y="299.25" width="6.3" height="6.3" fill="#050505"/><rect x="102.15" y="306.75" width="6.3" height="6.3" fill="#050505"/><rect x="108.85" y="315.65" width="6.3" height="6.3" fill="#050505"/><rect x="115.45" y="321.45" width="6.3" height="6.3" fill="#050505"/><rect x="122.65" y="337.75" width="6.3" height="6.3" fill="#050505"/><rect x="128.85" y="368.25" width="6.3" height="6.3" fill="#050505"/><rect x="135.75" y="376.05" width="6.3" height="6.3" fill="#050505"/><rect x="142.85" y="371.85" width="6.3" height="6.3" fill="#050505"/><rect x="149.25" y="389.15" width="6.3" height="6.3" fill="#050505"/><path d="M30.70 243.00L33.80 246.10L30.70 249.20L27.60 246.10z" fill="#0c0ce0"/><path d="M37.70 247.40L40.80 250.50L37.70 253.60L34.60 250.50z" fill="#0c0ce0"/><path d="M44.80 253.20L47.90 256.30L44.80 259.40L41.70 256.30z" fill="#0c0ce0"/><path d="M51.10 254.00L54.20 257.10L51.10 260.20L48.00 257.10z" fill="#0c0ce0"/><path d="M57.80 257.10L60.90 260.20L57.80 263.30L54.70 260.20z" fill="#0c0ce0"/><path d="M64.70 264.10L67.80 267.20L64.70 270.30L61.60 267.20z" fill="#0c0ce0"/><path d="M71.40 269.60L74.50 272.70L71.40 275.80L68.30 272.70z" fill="#0c0ce0"/><path d="M78.10 274.30L81.20 277.40L78.10 280.50L75.00 277.40z" fill="#0c0ce0"/><path d="M85.20 279.80L88.30 282.90L85.20 286.00L82.10 282.90z" fill="#0c0ce0"/><path d="M91.80 287.60L94.90 290.70L91.80 293.80L88.70 290.70z" fill="#0c0ce0"/><path d="M98.40 293.30L101.50 296.40L98.40 299.50L95.30 296.40z" fill="#0c0ce0"/><path d="M105.00 296.90L108.10 300.00L105.00 303.10L101.90 300.00z" fill="#0c0ce0"/><path d="M111.70 305.80L114.80 308.90L111.70 312.00L108.60 308.90z" fill="#0c0ce0"/><path d="M118.60 310.00L121.70 313.10L118.60 316.20L115.50 313.10z" fill="#0c0ce0"/><path d="M125.30 318.30L128.40 321.40L125.30 324.50L122.20 321.40z" fill="#0c0ce0"/><path d="M132.10 332.70L135.20 335.80L132.10 338.90L129.00 335.80z" fill="#0c0ce0"/><path d="M138.90 341.90L142.00 345.00L138.90 348.10L135.80 345.00z" fill="#0c0ce0"/><path d="M145.50 347.80L148.60 350.90L145.50 354.00L142.40 350.90z" fill="#0c0ce0"/><path d="M152.40 352.30L155.50 355.40L152.40 358.50L149.30 355.40z" fill="#0c0ce0"/><path d="M159.10 356.40L162.20 359.50L159.10 362.60L156.00 359.50z" fill="#0c0ce0"/><path d="M166.00 366.50L169.10 369.60L166.00 372.70L162.90 369.60z" fill="#0c0ce0"/><path d="M172.60 368.30L175.70 371.40L172.60 374.50L169.50 371.40z" fill="#0c0ce0"/><path d="M179.50 388.70L182.60 391.80L179.50 394.90L176.40 391.80z" fill="#0c0ce0"/><path d="M193.00 397.80L196.10 400.90L193.00 404.00L189.90 400.90z" fill="#0c0ce0"/></g><circle cx="151.70" cy="268.00" r="2.6" fill="none" stroke="#e85a5a" stroke-width="0.8"/><path d="M153.40 279.70V285.30H147.80z" fill="#3adcf2"/><path d="M151.70 295.90L154.20 298.40L151.70 300.90L149.20 298.40z" fill="#1010e0"/><rect x="148.55" y="311.75" width="6.3" height="6.3" fill="#050505"/><text x="166.60" y="273.10" font-size="10.6" text-anchor="start" fill="#e01a2a" font-family="Liberation Sans, sans-serif" stroke="#e01a2a" stroke-width="0.1">EMT1</text><text x="165.60" y="287.60" font-size="10.6" text-anchor="start" fill="#7adcf0" font-family="Liberation Sans, sans-serif" stroke="#7adcf0" stroke-width="0.1">EMT8</text><text x="166.00" y="305.80" font-size="10.6" text-anchor="start" fill="#1a1ae0" font-family="Liberation Sans, sans-serif" stroke="#1a1ae0" stroke-width="0.1">FWT1</text><text x="166.00" y="319.80" font-size="10.6" text-anchor="start" fill="#222" font-family="Liberation Sans, sans-serif" stroke="#222" stroke-width="0.1">FWT9</text><text x="162.00" y="246.30" font-size="15.5" text-anchor="start" fill="#2a2626" font-family="Liberation Sans, sans-serif" >c</text><text x="140.4" y="441.8" font-size="16" letter-spacing="0.12" text-anchor="middle" fill="#1a1a1a" font-family="Liberation Sans, sans-serif">|<tspan font-family="Liberation Serif, serif">δ</tspan><tspan font-family="Liberation Serif, serif" font-style="italic">r</tspan>|/rms(|<tspan font-family="Liberation Serif, serif">δ</tspan><tspan font-family="Liberation Serif, serif" font-style="italic">r</tspan>|)</text><text transform="translate(9.9,268.2) rotate(-90)" font-size="13.7" text-anchor="middle" fill="#1a1a1a" font-family="Liberation Sans, sans-serif">PDF(|<tspan font-family="Liberation Serif, serif">δ</tspan><tspan font-family="Liberation Serif, serif" font-style="italic">r</tspan>|)</text><rect x="266.20" y="353.34" width="188.70" height="37.84" fill="#cbcbcb"/><circle cx="286.64" cy="259.12" r="3.1" fill="#0505d4"/><circle cx="300.79" cy="332.91" r="3.1" fill="#0505d4"/><circle cx="321.55" cy="355.61" r="3.1" fill="#0505d4"/><circle cx="335.39" cy="366.96" r="3.1" fill="#0505d4"/><circle cx="369.99" cy="368.85" r="3.1" fill="#0505d4"/><circle cx="404.89" cy="370.75" r="3.1" fill="#0505d4"/><circle cx="439.80" cy="370.75" r="3.1" fill="#0505d4"/><path d="M272.49 410.10v-4.3M272.49 220.90v4.3M278.78 410.10v-4.3M278.78 220.90v4.3M285.07 410.10v-4.3M285.07 220.90v4.3M291.36 410.10v-4.3M291.36 220.90v4.3M297.65 410.10v-4.3M297.65 220.90v4.3M303.94 410.10v-4.3M303.94 220.90v4.3M310.23 410.10v-4.3M310.23 220.90v4.3M316.52 410.10v-4.3M316.52 220.90v4.3M322.81 410.10v-4.3M322.81 220.90v4.3M329.10 410.10v-4.3M329.10 220.90v4.3M335.39 410.10v-4.3M335.39 220.90v4.3M341.68 410.10v-4.3M341.68 220.90v4.3M347.97 410.10v-4.3M347.97 220.90v4.3M354.26 410.10v-4.3M354.26 220.90v4.3M360.55 410.10v-4.3M360.55 220.90v4.3M366.84 410.10v-4.3M366.84 220.90v4.3M373.13 410.10v-4.3M373.13 220.90v4.3M379.42 410.10v-4.3M379.42 220.90v4.3M385.71 410.10v-4.3M385.71 220.90v4.3M392.00 410.10v-4.3M392.00 220.90v4.3M398.29 410.10v-4.3M398.29 220.90v4.3M404.58 410.10v-4.3M404.58 220.90v4.3M410.87 410.10v-4.3M410.87 220.90v4.3M417.16 410.10v-4.3M417.16 220.90v4.3M423.45 410.10v-4.3M423.45 220.90v4.3M429.74 410.10v-4.3M429.74 220.90v4.3M436.03 410.10v-4.3M436.03 220.90v4.3M442.32 410.10v-4.3M442.32 220.90v4.3M448.61 410.10v-4.3M448.61 220.90v4.3" stroke="#1a1a1a" stroke-width="1.4" fill="none"/><path d="M297.65 410.10v-8.8M297.65 220.90v8.8M329.10 410.10v-8.8M329.10 220.90v8.8M360.55 410.10v-8.8M360.55 220.90v8.8M392.00 410.10v-8.8M392.00 220.90v8.8M423.45 410.10v-8.8M423.45 220.90v8.8" stroke="#1a1a1a" stroke-width="1.5" fill="none"/><path d="M266.20 400.64h4.3M454.90 400.64h-4.3M266.20 391.18h4.3M454.90 391.18h-4.3M266.20 381.72h4.3M454.90 381.72h-4.3M266.20 372.26h4.3M454.90 372.26h-4.3M266.20 362.80h4.3M454.90 362.80h-4.3M266.20 353.34h4.3M454.90 353.34h-4.3M266.20 343.88h4.3M454.90 343.88h-4.3M266.20 334.42h4.3M454.90 334.42h-4.3M266.20 324.96h4.3M454.90 324.96h-4.3M266.20 315.50h4.3M454.90 315.50h-4.3M266.20 306.04h4.3M454.90 306.04h-4.3M266.20 296.58h4.3M454.90 296.58h-4.3M266.20 287.12h4.3M454.90 287.12h-4.3M266.20 277.66h4.3M454.90 277.66h-4.3M266.20 268.20h4.3M454.90 268.20h-4.3M266.20 258.74h4.3M454.90 258.74h-4.3M266.20 249.28h4.3M454.90 249.28h-4.3M266.20 239.82h4.3M454.90 239.82h-4.3M266.20 230.36h4.3M454.90 230.36h-4.3" stroke="#1a1a1a" stroke-width="1.4" fill="none"/><path d="M266.20 372.26h8.8M454.90 372.26h-8.8M266.20 334.42h8.8M454.90 334.42h-8.8M266.20 296.58h8.8M454.90 296.58h-8.8M266.20 258.74h8.8M454.90 258.74h-8.8" stroke="#1a1a1a" stroke-width="1.5" fill="none"/><rect x="266.20" y="220.90" width="188.70" height="189.20" fill="none" stroke="#1a1a1a" stroke-width="1.55"/><text x="261.20" y="412.30" font-size="12.5" text-anchor="end" fill="#1a1a1a" font-family="Liberation Sans, sans-serif" >0.8</text><path d="M258.56 374.30V365.55M255.75 367.55Q257.88 366.80 258.44 365.36" fill="none" stroke="#1a1a1a" stroke-width="1.15"/><path d="M248.14 337.10V328.35M245.32 330.35Q247.45 329.60 248.01 328.16" fill="none" stroke="#1a1a1a" stroke-width="1.15"/><text x="250.77" y="337.10" font-size="12.5" fill="#1a1a1a" font-family="Liberation Sans, sans-serif">.</text><text x="254.25" y="337.10" font-size="12.5" fill="#1a1a1a" font-family="Liberation Sans, sans-serif">2</text><path d="M248.14 298.80V290.05M245.32 292.05Q247.45 291.30 248.01 289.86" fill="none" stroke="#1a1a1a" stroke-width="1.15"/><text x="250.77" y="298.80" font-size="12.5" fill="#1a1a1a" font-family="Liberation Sans, sans-serif">.</text><text x="254.25" y="298.80" font-size="12.5" fill="#1a1a1a" font-family="Liberation Sans, sans-serif">4</text><path d="M248.14 261.80V253.05M245.32 255.05Q247.45 254.30 248.01 252.86" fill="none" stroke="#1a1a1a" stroke-width="1.15"/><text x="250.77" y="261.80" font-size="12.5" fill="#1a1a1a" font-family="Liberation Sans, sans-serif">.</text><text x="254.25" y="261.80" font-size="12.5" fill="#1a1a1a" font-family="Liberation Sans, sans-serif">6</text><path d="M248.14 227.60V218.85M245.32 220.85Q247.45 220.10 248.01 218.66" fill="none" stroke="#1a1a1a" stroke-width="1.15"/><text x="250.77" y="227.60" font-size="12.5" fill="#1a1a1a" font-family="Liberation Sans, sans-serif">.</text><text x="254.25" y="227.60" font-size="12.5" fill="#1a1a1a" font-family="Liberation Sans, sans-serif">8</text><text x="266.20" y="426.70" font-size="12.5" text-anchor="middle" fill="#1a1a1a" font-family="Liberation Sans, sans-serif" >0</text><path d="M326.46 426.70V417.95M323.65 419.95Q325.77 419.20 326.34 417.76" fill="none" stroke="#1a1a1a" stroke-width="1.15"/><text x="329.10" y="426.70" font-size="12.5" fill="#1a1a1a" font-family="Liberation Sans, sans-serif">0</text><text x="392.00" y="426.70" font-size="12.5" text-anchor="middle" fill="#1a1a1a" font-family="Liberation Sans, sans-serif" >20</text><text x="455.70" y="426.70" font-size="12.5" text-anchor="middle" fill="#1a1a1a" font-family="Liberation Sans, sans-serif" >30</text><text x="420.30" y="245.80" font-size="15.5" text-anchor="start" fill="#2a2626" font-family="Liberation Sans, sans-serif" >d</text><text x="345.50" y="309.90" font-size="13.6" text-anchor="start" fill="#444" font-family="Liberation Sans, sans-serif" >FWT9</text><g transform="translate(231.00,231.00) scale(1.05)" fill="none" stroke="#1a1a1a" stroke-linecap="round"><path d="M0.3 1.9C0.7 0.3 2.0 0.1 2.6 1.7L3.9 6.6" stroke-width="0.95"/><path d="M6.3 0.4L3.7 7.6" stroke-width="0.85"/><path d="M3.85 6.2L3.2 9.6" stroke-width="1.35"/></g><text x="238.60" y="246.90" font-size="12.5" text-anchor="start" fill="#1a1a1a" font-family="Liberation Sans, sans-serif" >2</text><text x="411.0" y="440.0" font-size="16.6" text-anchor="middle" fill="#1a1a1a" font-family="Liberation Serif, serif">τ/<tspan font-style="italic">T</tspan><tspan font-style="italic" font-size="8.5" dy="3.3">L</tspan></text></svg></body></html>
